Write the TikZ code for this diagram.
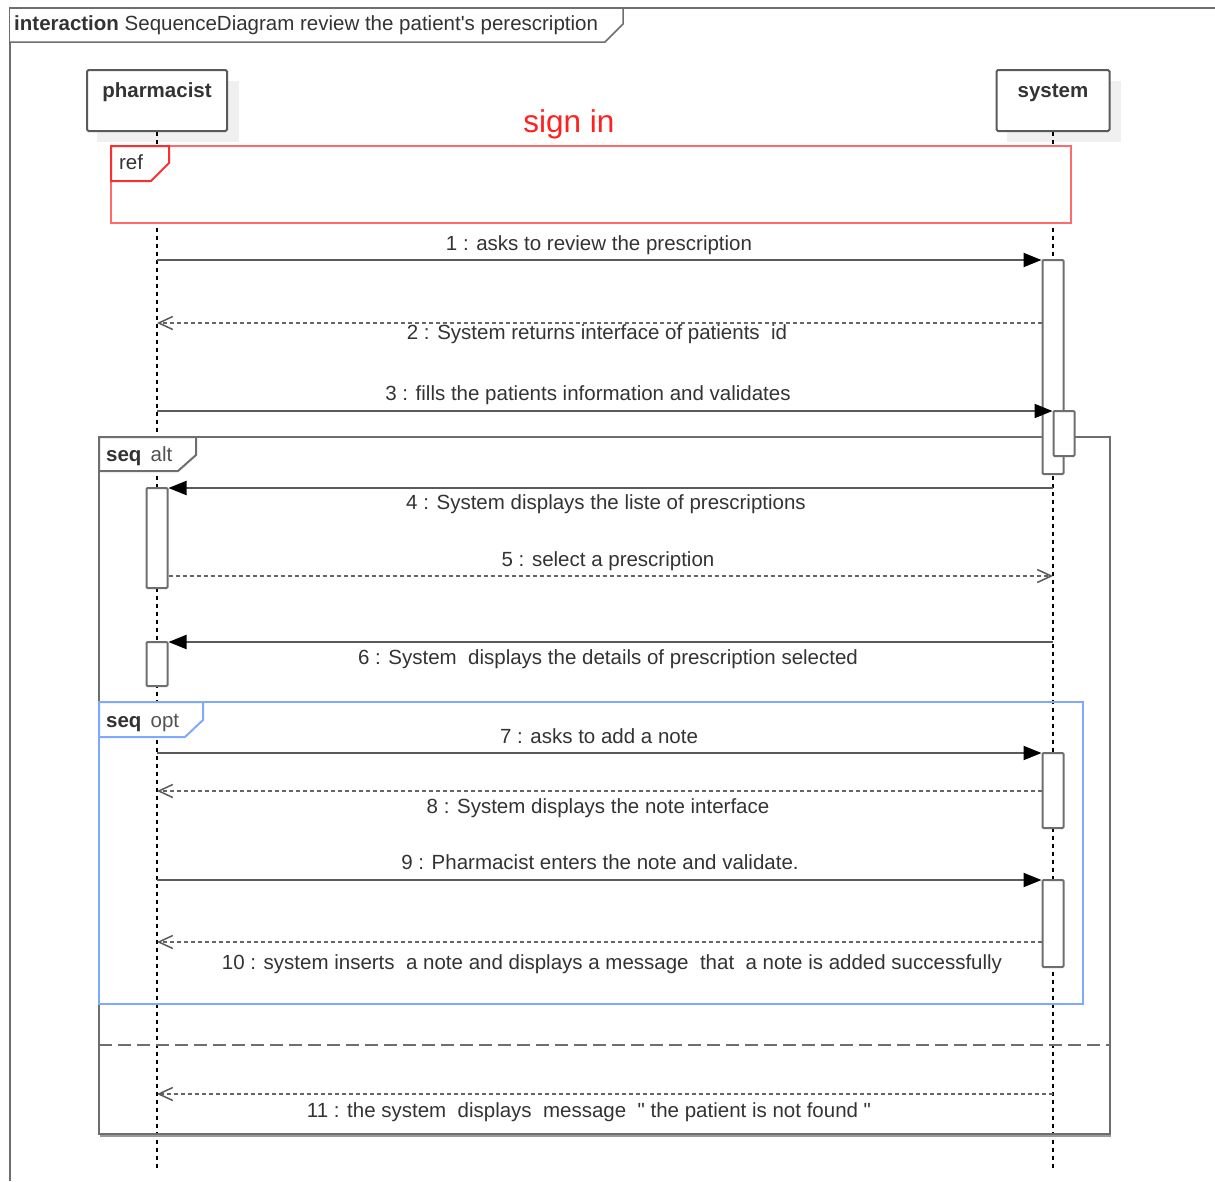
\documentclass[tikz,border=0pt]{standalone}
\usepackage{fontspec}
\setmainfont{Liberation Sans}[Ligatures=TeXOff]
\usetikzlibrary{arrows.meta,calc}

\definecolor{txt}{HTML}{333333}
\definecolor{ln}{HTML}{5A5A5A}
\definecolor{retln}{HTML}{666666}
\definecolor{frm}{HTML}{6E6E6E}
\definecolor{headshadow}{HTML}{F0F0F0}
\definecolor{refred}{HTML}{FF6B6B}
\definecolor{refdark}{HTML}{FF2E2E}
\definecolor{signred}{HTML}{FF2020}
\definecolor{optblue}{HTML}{7FA8FF}

\tikzset{
  every node/.style={font=\fontsize{20.5}{24}\selectfont, text=txt, inner sep=0pt},
  headbox/.style={draw=ln, line width=2pt, fill=white, rounded corners=1.5pt, minimum height=61pt},
  lifeline/.style={draw=black, line width=1.1pt, dash pattern=on 4pt off 4pt},
  actbox/.style={draw=frm, line width=2pt, fill=white, rounded corners=1pt, minimum width=21pt},
  callmsg/.style={draw=ln, line width=2pt, -{Triangle[length=18pt,width=14pt,fill=black,color=black]}},
  retmsg/.style={draw=retln, line width=2.4pt, dash pattern=on 4pt off 3pt, -{Straight Barb[length=14pt,width=13pt,line width=1.5pt,color=ln]}},
  msglabel/.style={anchor=base},
  fragtag/.style={line width=2pt, fill=white},
}

\begin{document}
\begin{tikzpicture}[x=1pt,y=-1pt]
\useasboundingbox (0,0) rectangle (1215,1181);

% outer interaction frame with title tag
\draw[frm, line width=1.5pt] (10,1181) -- (10,8) -- (1215,8);
\draw[frm, line width=1.5pt, fill=white] (10,8) -- (623,8) -- (623,24) -- (605,42) -- (10,42);
\node[anchor=base west] (title) at (14,30) {\textbf{interaction} SequenceDiagram review the patient's perescription};

% lifeline heads with drop shadows
\fill[headshadow] (97,81) rectangle (239,142);
\fill[headshadow] (1007,81) rectangle (1121,142);
\node[headbox, minimum width=140pt] (ph) at (157,100.5) {};
\node[headbox, minimum width=113pt] (sys) at (1053,100.5) {};
\node[anchor=base] (phname) at (157,97) {\textbf{pharmacist}};
\node[anchor=base] (sysname) at (1053,97) {\textbf{system}};

% lifelines
\coordinate (bottom) at (0,1170);
\draw[lifeline] (ph.south) -- (ph.south |- bottom);
\draw[lifeline] (sys.south) -- (sys.south |- bottom);

% ref fragment: sign in
\node[anchor=base, text=signred, font=\fontsize{31.5}{36}\selectfont] (signin) at (569,132) {sign in};
\draw[refred, line width=2pt, fill=white] (111,146) rectangle (1071,223);
\draw[refdark, fragtag] (111,146) -- (169,146) -- (169,163) -- (151,181) -- (111,181) -- cycle;
\node[anchor=base] (reftag) at (131,169) {ref};

% alt fragment
\draw[frm!70, line width=2pt] (100,1135.8) -- (1111,1135.8);
\draw[frm, line width=2pt] (99,437) rectangle (1110,1134);
\draw[frm, fragtag] (99,437) -- (196,437) -- (196,455) -- (178,471) -- (99,471) -- cycle;
\node[anchor=base west] (alttag) at (106,461) {\textbf{seq}\, \textcolor{txt!85}{alt}};
\draw[frm, line width=2.6pt, dash pattern=on 13pt off 6pt] (99,1045) -- (1110,1045);

% opt fragment
\draw[optblue, line width=2pt] (99,702) rectangle (1083,1004);
\draw[optblue, fragtag] (99,702) -- (203,702) -- (203,720) -- (185,737) -- (99,737) -- cycle;
\node[anchor=base west] (opttag) at (106,727) {\textbf{seq}\, \textcolor{txt!85}{opt}};

% execution specifications
\node[actbox, minimum height=214pt] (a1) at (1053,367) {};
\node[actbox, minimum height=45pt] (a2) at (1064,433.5) {};
\node[actbox, minimum height=100pt] (p1) at (157,538) {};
\node[actbox, minimum height=44pt] (p2) at (157,664) {};
\node[actbox, minimum height=75pt] (a3) at (1053,790.5) {};
\node[actbox, minimum height=87pt] (a4) at (1053,923.5) {};

% message rows
\coordinate (r1) at (0,260);
\coordinate (r2) at (0,323);
\coordinate (r3) at (0,411);
\coordinate (r4) at (0,488);
\coordinate (r5) at (0,576);
\coordinate (r6) at (0,642);
\coordinate (r7) at (0,753);
\coordinate (r8) at (0,791);
\coordinate (r9) at (0,880);
\coordinate (r10) at (0,942);
\coordinate (r11) at (0,1094);

% messages
\draw[callmsg] (ph.south |- r1) -- (a1.west |- r1);
\draw[retmsg] (a1.west |- r2) -- (ph.south |- r2);
\draw[callmsg] (ph.south |- r3) -- (a2.west |- r3);
\draw[callmsg] (sys.south |- r4) -- (p1.east |- r4);
\draw[retmsg] (p1.east |- r5) -- (sys.south |- r5);
\draw[callmsg] (sys.south |- r6) -- (p2.east |- r6);
\draw[callmsg] (ph.south |- r7) -- (a3.west |- r7);
\draw[retmsg] (a3.west |- r8) -- (ph.south |- r8);
\draw[callmsg] (ph.south |- r9) -- (a4.west |- r9);
\draw[retmsg] (a4.west |- r10) -- (ph.south |- r10);
\draw[retmsg] (sys.south |- r11) -- (ph.south |- r11);

% message labels
\node[msglabel] (l1) at (599,250) {1 : asks to review the prescription};
\node[msglabel] (l2) at (597,339) {2 : System returns interface of patients~~id};
\node[msglabel] (l3) at (588,400) {3 : fills the patients information and validates};
\node[msglabel] (l4) at (606,509) {4 : System displays the liste of prescriptions};
\node[msglabel] (l5) at (608,566) {5 : select a prescription};
\node[msglabel] (l6) at (608,664) {6 : System~~displays the details of prescription selected};
\node[msglabel] (l7) at (599,743) {7 : asks to add a note};
\node[msglabel] (l8) at (598,813) {8 : System displays the note interface};
\node[msglabel] (l9) at (600,869) {9 : Pharmacist enters the note and validate.};
\node[msglabel] (l10) at (612,969) {10 : system inserts~~a note and displays a message~~that~~a note is added successfully};
\node[msglabel] (l11) at (589,1117) {11 : the system~~displays~~message~~" the patient is not found "};
\end{tikzpicture}
\end{document}
